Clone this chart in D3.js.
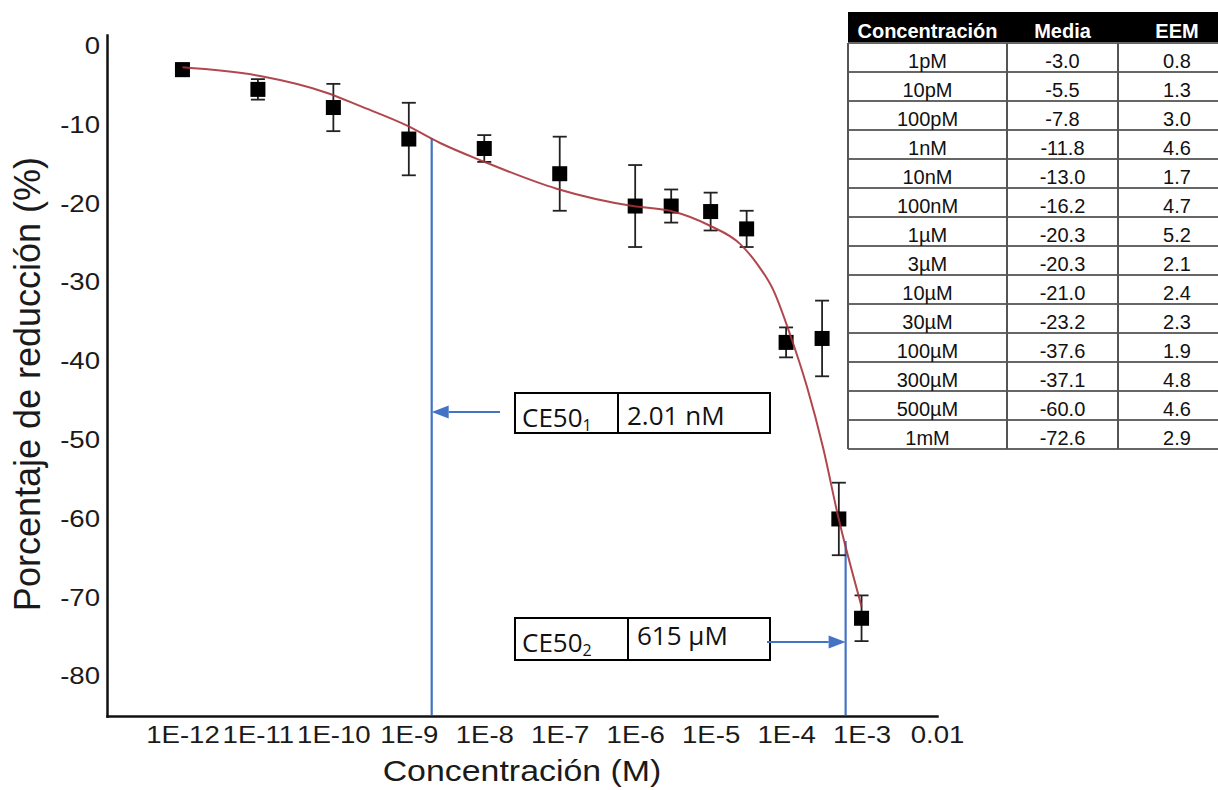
<!DOCTYPE html>
<html>
<head>
<meta charset="utf-8">
<script src="https://cdn.jsdelivr.net/npm/d3@7"></script>
<style>
  body { margin: 0; background: #ffffff; }
  svg { display: block; }
</style>
</head>
<body>
<svg id="chart" width="1218" height="790"></svg>
<script>
// Concentration–response measurements (mean ± SEM, % reduction)
const concentrations = [1e-12, 1e-11, 1e-10, 1e-9, 1e-8, 1e-7, 1e-6, 3e-6, 1e-5, 3e-5, 1e-4, 3e-4, 5e-4, 1e-3];
const concLabels = ["1pM", "10pM", "100pM", "1nM", "10nM", "100nM", "1µM", "3µM", "10µM", "30µM", "100µM", "300µM", "500µM", "1mM"];
const means = [-3.0, -5.5, -7.8, -11.8, -13.0, -16.2, -20.3, -20.3, -21.0, -23.2, -37.6, -37.1, -60.0, -72.6];
const sems = [0.8, 1.3, 3.0, 4.6, 1.7, 4.7, 5.2, 2.1, 2.4, 2.3, 1.9, 4.8, 4.6, 2.9];

// Fitted biphasic curve, sampled points
const curveConc = [1e-12, 1.07e-11, 8.3e-11, 2.24e-10, 9.5e-10, 2.6e-9, 9.5e-9, 9.1e-8, 9.3e-7, 2.9e-6, 9.8e-6, 2.45e-5, 4.1e-5, 6.8e-5, 1.12e-4, 1.9e-4, 3.1e-4, 4.9e-4, 1e-3];
const curveValues = [-2.7, -3.8, -5.95, -7.6, -10.1, -12.3, -14.6, -18.1, -20.3, -20.9, -22.8, -25.1, -27.6, -31.0, -36.5, -43.3, -51.0, -59.7, -71.1];

// CE50 annotations
const ce50Subscripts = ["1", "2"];
const ce50Values = [2.01e-9, 6.15e-4];
const ce50Texts = ["2.01 nM", "615 µM"];
const ce50Tops = [-11.7, -62.8];

// Axis ticks
const xTickValues = [1e-12, 1e-11, 1e-10, 1e-9, 1e-8, 1e-7, 1e-6, 1e-5, 1e-4, 1e-3, 1e-2];
const xTickLabels = ["1E-12", "1E-11", "1E-10", "1E-9", "1E-8", "1E-7", "1E-6", "1E-5", "1E-4", "1E-3", "0.01"];
const yTickValues = [0, -10, -20, -30, -40, -50, -60, -70, -80];
const yTickLabels = ["0", "-10", "-20", "-30", "-40", "-50", "-60", "-70", "-80"];

// Table headers
const tableHeaders = ["Concentración", "Media", "EEM"];

const svg = d3.select("#chart");
const FONT = "'Liberation Sans', Arial, sans-serif";
const BOX_FONT = "'Open Sans', 'Noto Sans', sans-serif";
const BLUE = "#4472c4";

const x = d3.scaleLog().domain([1e-13, 1e-2]).range([107, 937]);
const y = d3.scaleLinear().domain([-85, 1.4]).range([716, 35]);

// Axes
const xAxisG = svg.append("g")
  .attr("transform", `translate(0,${y(-85)})`)
  .call(d3.axisBottom(x).tickValues(xTickValues).tickFormat((d, i) => xTickLabels[i])
    .tickSize(0).tickSizeOuter(0).tickPadding(11));
xAxisG.attr("font-family", FONT).attr("font-size", 23);
xAxisG.select(".domain").attr("stroke", "#111").attr("stroke-width", 2.5).attr("stroke-linecap", "square");
xAxisG.selectAll(".tick line").remove();
xAxisG.selectAll(".tick text").attr("fill", "#1a1a1a").attr("transform", "scale(1.2,1)");

const yAxisG = svg.append("g")
  .attr("transform", `translate(${x(1e-13)},0)`)
  .call(d3.axisLeft(y).tickValues(yTickValues).tickFormat((d, i) => yTickLabels[i])
    .tickSize(0).tickSizeOuter(0).tickPadding(7));
yAxisG.attr("font-family", FONT).attr("font-size", 23);
yAxisG.select(".domain").attr("stroke", "#111").attr("stroke-width", 2.5).attr("stroke-linecap", "square");
yAxisG.selectAll(".tick line").remove();
yAxisG.selectAll(".tick text").attr("fill", "#1a1a1a").attr("x", -7 / 1.2).attr("transform", "scale(1.2,1)");

// Axis titles
svg.append("text")
  .attr("transform", "translate(522,781) scale(1.13,1)")
  .attr("text-anchor", "middle")
  .attr("font-family", FONT).attr("font-size", 30).attr("fill", "#1a1a1a")
  .text("Concentración (M)");

svg.append("text")
  .attr("transform", "translate(40,384) rotate(-90)")
  .attr("text-anchor", "middle")
  .attr("font-family", FONT).attr("font-size", 36).attr("fill", "#1a1a1a")
  .text("Porcentaje de reducción (%)");

// CE50 guide lines
ce50Values.forEach((v, i) => {
  svg.append("line")
    .attr("x1", x(v)).attr("x2", x(v))
    .attr("y1", y(ce50Tops[i])).attr("y2", y(-85) - 1)
    .attr("stroke", BLUE).attr("stroke-width", 2.2);
});

// Error bars and markers
const pts = concentrations.map((c, i) => ({ c, m: means[i], s: sems[i] }));
const eb = svg.append("g").attr("stroke", "#222").attr("stroke-width", 1.8);
pts.forEach(p => {
  const cx = x(p.c);
  eb.append("line").attr("x1", cx).attr("x2", cx).attr("y1", y(p.m + p.s)).attr("y2", y(p.m - p.s));
  eb.append("line").attr("x1", cx - 7).attr("x2", cx + 7).attr("y1", y(p.m + p.s)).attr("y2", y(p.m + p.s));
  eb.append("line").attr("x1", cx - 7).attr("x2", cx + 7).attr("y1", y(p.m - p.s)).attr("y2", y(p.m - p.s));
});
svg.append("g").selectAll("rect").data(pts).join("rect")
  .attr("x", d => x(d.c) - 7.5).attr("y", d => y(d.m) - 7.5)
  .attr("width", 15).attr("height", 15).attr("fill", "#000");

// Fitted curve
const line = d3.line().x(d => x(d[0])).y(d => y(d[1])).curve(d3.curveMonotoneX);
svg.append("path")
  .attr("d", line(d3.zip(curveConc, curveValues)))
  .attr("fill", "none").attr("stroke", "#a8323a").attr("stroke-width", 2).attr("stroke-opacity", 0.9);

// CE50 boxes and arrows
function arrow(x1, x2, yy) {
  const dir = x2 > x1 ? 1 : -1;
  const head = 17;
  svg.append("line").attr("x1", x1).attr("x2", x2 - dir * head).attr("y1", yy).attr("y2", yy)
    .attr("stroke", BLUE).attr("stroke-width", 2.2);
  svg.append("path")
    .attr("d", `M${x2},${yy}L${x2 - dir * head},${yy - 6.5}L${x2 - dir * head},${yy + 6.5}Z`)
    .attr("fill", BLUE);
}

const boxLayout = [
  { top: 393, h: 40, div: 618, labBase: 427, valBase: 425, arrowY: 412, arrowFrom: 500 },
  { top: 618, h: 42, div: 628, labBase: 652, valBase: 645, arrowY: 642, arrowFrom: 767 }
];
boxLayout.forEach((b, i) => {
  svg.append("rect").attr("x", 515).attr("y", b.top).attr("width", 255).attr("height", b.h)
    .attr("fill", "#fff").attr("stroke", "#000").attr("stroke-width", 2);
  svg.append("line").attr("x1", b.div).attr("x2", b.div).attr("y1", b.top).attr("y2", b.top + b.h)
    .attr("stroke", "#000").attr("stroke-width", 2);
  const t = svg.append("text").attr("x", 522).attr("y", b.labBase)
    .attr("font-family", BOX_FONT).attr("font-size", 26).attr("fill", "#111");
  t.append("tspan").text("CE50");
  t.append("tspan").attr("font-size", 16).attr("dy", 4).text(ce50Subscripts[i]);
  svg.append("text").attr("x", b.div + 9).attr("y", b.valBase)
    .attr("font-family", BOX_FONT).attr("font-size", 26).attr("fill", "#111")
    .text(ce50Texts[i]);
  arrow(b.arrowFrom, x(ce50Values[i]), b.arrowY);
});

// Data table
const tbl = svg.append("g");
const tLeft = 848, tTop = 12, headH = 31, rowH = 29, tRight = 1236;
const colEdges = [tLeft, 1007, 1118, tRight];
const colCenters = [927.5, 1062.5, 1177];
const nRows = concLabels.length;
const tBottom = tTop + headH + nRows * rowH;

tbl.append("rect").attr("x", tLeft).attr("y", tTop).attr("width", tRight - tLeft).attr("height", headH).attr("fill", "#000");
tbl.selectAll("text.hdr").data(tableHeaders).join("text").attr("class", "hdr")
  .attr("x", (d, i) => colCenters[i]).attr("y", tTop + headH - 5)
  .attr("text-anchor", "middle").attr("font-family", FONT).attr("font-weight", "bold")
  .attr("font-size", 20).attr("fill", "#fff").text(d => d);

// grid lines
for (let r = 0; r <= nRows; r++) {
  const yy = tTop + headH + r * rowH;
  tbl.append("line").attr("x1", tLeft).attr("x2", tRight).attr("y1", yy).attr("y2", yy)
    .attr("stroke", "#666").attr("stroke-width", 2);
}
colEdges.slice(0, 3).forEach(cx => {
  tbl.append("line").attr("x1", cx).attr("x2", cx).attr("y1", tTop + headH).attr("y2", tBottom)
    .attr("stroke", "#555").attr("stroke-width", 2);
});

const rows = concLabels.map((l, i) => [l, means[i].toFixed(1), sems[i].toFixed(1)]);
rows.forEach((row, r) => {
  const base = tTop + headH + r * rowH + 25;
  row.forEach((cell, c) => {
    tbl.append("text").attr("x", colCenters[c]).attr("y", base)
      .attr("text-anchor", "middle").attr("font-family", FONT).attr("font-size", 20)
      .attr("fill", "#111").text(cell);
  });
});
</script>
</body>
</html>
